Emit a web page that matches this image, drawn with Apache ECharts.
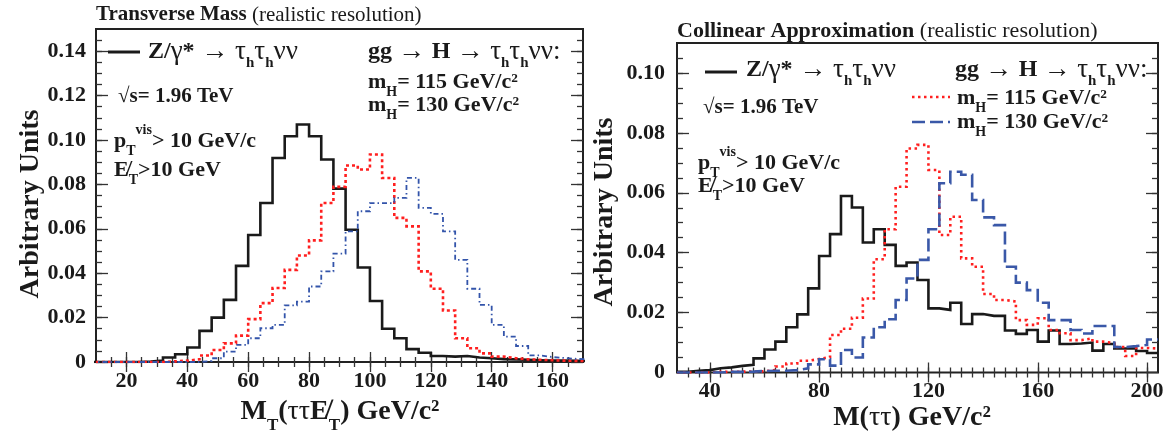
<!DOCTYPE html>
<html>
<head>
<meta charset="utf-8">
<script src="https://cdn.jsdelivr.net/npm/echarts@6/dist/echarts.min.js"></script>
<style>
  html, body { margin: 0; padding: 0; background: #ffffff; }
  #chart { width: 1173px; height: 437px; }
</style>
</head>
<body>
<div id="chart"></div>
<script>
// ---------------- data ----------------
// Histogram binning (GeV/c^2): lower edge of first bin and common bin width
const binWidth = 4;
const mtBinLow = 8;     // transverse-mass histograms
const colBinLow = 28;   // collinear-mass histograms

// Transverse mass M_T(tau tau MET), bins 8..172
const mtZ = [0, 0, 0, 0, 0.0002, 0.0006, 0.0020, 0.0035, 0.0065, 0.0140,
  0.0200, 0.0280, 0.0433, 0.0572, 0.0716, 0.0919, 0.1017, 0.1070, 0.1017, 0.0912,
  0.0781, 0.0596, 0.0426, 0.0275, 0.0150, 0.0107, 0.0058, 0.0042, 0.0027, 0.0024,
  0.0027, 0.0020, 0.0017, 0.0013, 0.0012, 0.0010, 0.0008, 0.0007, 0.0006, 0.0005,
  0.0004];
const mtH115 = [0, 0, 0, 0, 0, 0, 0.0003, 0.0006, 0.0012, 0.0029,
  0.0054, 0.0084, 0.0119, 0.0193, 0.0265, 0.0333, 0.0415, 0.0480, 0.0548, 0.0716,
  0.0789, 0.0885, 0.0867, 0.0935, 0.0829, 0.0649, 0.0611, 0.0408, 0.0330, 0.0232,
  0.0107, 0.0062, 0.0039, 0.0024, 0.0017, 0.0012, 0.0010, 0.0008, 0.0006, 0.0005,
  0.0004];
const mtH130 = [0, 0, 0, 0, 0, 0, 0, 0, 0, 0.0005,
  0.0017, 0.0047, 0.0077, 0.0107, 0.0152, 0.0167, 0.0255, 0.0272, 0.0340, 0.0408,
  0.0488, 0.0588, 0.0679, 0.0716, 0.0716, 0.0739, 0.0829, 0.0694, 0.0667, 0.0588,
  0.0460, 0.0330, 0.0257, 0.0167, 0.0114, 0.0072, 0.0030, 0.0022, 0.0018, 0.0014,
  0.0012];

// Collinear approximation M(tau tau), bins 28..204
const colZ = [0.0002, 0.0006, 0.0008, 0.0014, 0.0017, 0.0022, 0.0026, 0.0047, 0.0077, 0.0103,
  0.0151, 0.0194, 0.0281, 0.0389, 0.0462, 0.0589, 0.0551, 0.0434, 0.0478, 0.0426,
  0.0356, 0.0367, 0.0309, 0.0214, 0.0209, 0.0233, 0.0162, 0.0195, 0.0189, 0.0189,
  0.0140, 0.0129, 0.0142, 0.0103, 0.0140, 0.0095, 0.0097, 0.0100, 0.0073, 0.0095,
  0.0080, 0.0080, 0.0072, 0.0065];
const colH115 = [0, 0, 0, 0.0002, 0.0002, 0.0003, 0.0003, 0.0004, 0.0008, 0.0020,
  0.0030, 0.0039, 0.0045, 0.0051, 0.0125, 0.0146, 0.0183, 0.0247, 0.0378, 0.0478,
  0.0620, 0.0748, 0.0760, 0.0676, 0.0459, 0.0520, 0.0381, 0.0353, 0.0262, 0.0242,
  0.0237, 0.0175, 0.0159, 0.0181, 0.0142, 0.0131, 0.0108, 0.0114, 0.0103, 0.0098,
  0.0085, 0.0055, 0.0082, 0.0080];
const colH130 = [0, 0, 0, 0, 0.0002, 0.0002, 0.0003, 0.0005, 0.0006, 0.0006,
  0.0008, 0.0014, 0.0027, 0.0044, 0.0023, 0.0075, 0.0050, 0.0117, 0.0151, 0.0178,
  0.0242, 0.0314, 0.0376, 0.0478, 0.0632, 0.0670, 0.0660, 0.0576, 0.0518, 0.0492,
  0.0353, 0.0300, 0.0275, 0.0233, 0.0175, 0.0175, 0.0142, 0.0130, 0.0155, 0.0155,
  0.0085, 0.0088, 0.0092, 0.0110];

// Axis ranges and tick labels
const mtRange = [10, 170];
const mtYMax = 0.15;
const mtXTicks = [20, 40, 60, 80, 100, 120, 140, 160];
const mtYTicks = [0, 0.02, 0.04, 0.06, 0.08, 0.10, 0.12, 0.14];
const mtXMinorStep = 5;

const colRange = [28, 204];
const colYMax = 0.11;
const colXTicks = [40, 80, 120, 160, 200];
const colYTicks = [0, 0.02, 0.04, 0.06, 0.08, 0.10];
const colXMinorStep = 4;
const yMinorStep = 0.005;

// ---------------- styling ----------------
const FONT = '"Liberation Serif", "DejaVu Serif", serif';
const INK = '#1a1a1a';
const RED = '#ff1f1f';
const BLUE_MT = '#3354aa';
const BLUE_COL = '#3a58a8';
const TICK_FONT = 22;

function steps(lo, hi, step) {
  const out = [];
  for (let v = lo; v <= hi + 1e-9; v += step) out.push(+v.toFixed(6));
  return out;
}

function histData(low, values) {
  const pts = values.map((v, i) => [low + i * binWidth, v]);
  pts.push([low + values.length * binWidth, values[values.length - 1]]);
  return pts;
}

function yLabel(v) { return v === 0 ? '0' : v.toFixed(2); }

// four tick axes (main + minor, both sides) for one grid
function xAxes(grid, range, majors, minorStep) {
  const minors = steps(range[0], range[1], minorStep).filter(v => v > range[0] && v < range[1]);
  const base = {
    type: 'value', gridIndex: grid, min: range[0], max: range[1],
    axisLine: { show: false }, splitLine: { show: false }
  };
  const tickStyle = { color: '#333', width: 1.3 };
  return [
    Object.assign({}, base, {
      position: 'bottom',
      axisTick: { show: true, inside: true, length: 10, customValues: majors, lineStyle: tickStyle },
      axisLabel: {
        show: true, customValues: majors, margin: 8, color: INK,
        fontFamily: FONT, fontWeight: 'bold', fontSize: TICK_FONT
      }
    }),
    Object.assign({}, base, {
      position: 'bottom',
      axisTick: { show: true, inside: true, length: 5, customValues: minors, lineStyle: tickStyle },
      axisLabel: { show: false }
    }),
    Object.assign({}, base, {
      position: 'top',
      axisTick: { show: true, inside: true, length: 10, customValues: majors, lineStyle: tickStyle },
      axisLabel: { show: false }
    }),
    Object.assign({}, base, {
      position: 'top',
      axisTick: { show: true, inside: true, length: 5, customValues: minors, lineStyle: tickStyle },
      axisLabel: { show: false }
    })
  ];
}

function yAxes(grid, ymax, majors, labelMargin) {
  const minors = steps(0, ymax, yMinorStep).filter(v => v > 0 && v < ymax);
  const base = {
    type: 'value', gridIndex: grid, min: 0, max: ymax,
    axisLine: { show: false }, splitLine: { show: false }
  };
  const tickStyle = { color: '#333', width: 1.3 };
  return [
    Object.assign({}, base, {
      position: 'left',
      axisTick: { show: true, inside: true, length: 12, customValues: majors, lineStyle: tickStyle },
      axisLabel: {
        show: true, customValues: majors, margin: labelMargin, color: INK,
        fontFamily: FONT, fontWeight: 'bold', fontSize: TICK_FONT, formatter: yLabel
      }
    }),
    Object.assign({}, base, {
      position: 'left',
      axisTick: { show: true, inside: true, length: 6, customValues: minors, lineStyle: tickStyle },
      axisLabel: { show: false }
    }),
    Object.assign({}, base, {
      position: 'right',
      axisTick: { show: true, inside: true, length: 12, customValues: majors, lineStyle: tickStyle },
      axisLabel: { show: false }
    }),
    Object.assign({}, base, {
      position: 'right',
      axisTick: { show: true, inside: true, length: 6, customValues: minors, lineStyle: tickStyle },
      axisLabel: { show: false }
    })
  ];
}

function histSeries(name, low, values, axis, color, width, dash) {
  return {
    name: name, type: 'line', step: 'end', symbol: 'none', clip: true,
    xAxisIndex: axis, yAxisIndex: axis, silent: true, animation: false,
    lineStyle: { color: color, width: width, type: dash || 'solid', cap: 'butt', join: 'miter' },
    data: histData(low, values)
  };
}

// rich-text styles: bold, normal, greek (slightly larger), subscript, superscript
function rich(size) {
  const lh = Math.round(size * 1.6);
  const small = Math.round(size * 0.62);
  return {
    b: { fontFamily: FONT, fontWeight: 'bold', fontSize: size, lineHeight: lh, verticalAlign: 'middle', fill: INK },
    n: { fontFamily: FONT, fontWeight: 'normal', fontSize: size, lineHeight: lh, verticalAlign: 'middle', fill: INK },
    g: { fontFamily: FONT, fontWeight: 'normal', fontSize: Math.round(size * 1.12), lineHeight: lh, verticalAlign: 'middle', fill: INK },
    sub: { fontFamily: FONT, fontWeight: 'bold', fontSize: small, lineHeight: small + 2, verticalAlign: 'bottom', fill: INK },
    sup: { fontFamily: FONT, fontWeight: 'bold', fontSize: small, lineHeight: small + 2, verticalAlign: 'top', fill: INK }
  };
}

function label(x, y, text, size, align, rotation) {
  const el = {
    type: 'text', x: x, y: y, silent: true,
    style: {
      text: text, rich: rich(size), align: align || 'left', verticalAlign: 'middle',
      fontFamily: FONT, fontSize: size, fill: INK
    }
  };
  if (rotation) el.rotation = rotation;
  return el;
}

function sample(x1, x2, y, color, width, dash) {
  return {
    type: 'line', silent: true,
    shape: { x1: x1, y1: y, x2: x2, y2: y },
    style: { stroke: color, lineWidth: width, lineDash: dash || null }
  };
}

const zText = '{b|Z/}{g|γ}{b|*}{g| → τ}{sub|h}{g|τ}{sub|h}{g|νν}';
const hText = '{b|gg }{g|→ }{b|H }{g|→ τ}{sub|h}{g|τ}{sub|h}{g|νν:}';
const m115 = '{b|m}{sub|H}{b|= 115 GeV/c²}';
const m130 = '{b|m}{sub|H}{b|= 130 GeV/c²}';
const sqrtS = '{b|√s= 1.96 TeV}';
const ptCut = '{b|p}{sub|T}{sup|vis}{b|> 10 GeV/c}';
const metCut = '{b|E\u0338}{sub|T}{b|>10 GeV}';
const yTitle = '{b|Arbitrary Units}';

const chart = echarts.init(document.getElementById('chart'), null, { renderer: 'canvas' });

chart.setOption({
  animation: false,
  backgroundColor: '#ffffff',
  grid: [
    { left: 96, top: 29, width: 487, height: 333, show: true, borderColor: '#222', borderWidth: 2, backgroundColor: 'transparent' },
    { left: 677, top: 43, width: 481, height: 329.5, show: true, borderColor: '#222', borderWidth: 2, backgroundColor: 'transparent' }
  ],
  xAxis: [].concat(
    xAxes(0, mtRange, mtXTicks, mtXMinorStep),
    xAxes(1, colRange, colXTicks, colXMinorStep)
  ),
  yAxis: [].concat(
    yAxes(0, mtYMax, mtYTicks, 10),
    yAxes(1, colYMax, colYTicks, 12)
  ),
  series: [
    histSeries('Z → ττνν (M_T)', mtBinLow, mtZ, 0, INK, 2.6),
    histSeries('mH = 115 (M_T)', mtBinLow, mtH115, 0, RED, 2.6, [3, 3]),
    histSeries('mH = 130 (M_T)', mtBinLow, mtH130, 0, BLUE_MT, 1.8, [5, 3, 1.5, 3]),
    histSeries('Z → ττνν (M)', colBinLow, colZ, 4, INK, 2.6),
    histSeries('mH = 115 (M)', colBinLow, colH115, 4, RED, 2.6, [2.5, 3.5]),
    histSeries('mH = 130 (M)', colBinLow, colH130, 4, BLUE_COL, 2.6, [13, 5])
  ],
  graphic: [
    // transverse-mass panel
    label(96, 15, '{b|Transverse Mass} {n|(realistic resolution)}', 21),
    sample(108, 140, 52, INK, 3),
    label(148, 52, zText, 24),
    label(368, 52, hText, 24),
    label(368, 82, m115, 22),
    label(368, 105, m130, 22),
    label(118, 97, sqrtS, 21),
    label(114, 141, ptCut, 22),
    label(114, 170, metCut, 22),
    label(31, 204, yTitle, 28, 'center', Math.PI / 2),
    label(340, 412, '{b|M}{sub|T}{b|(}{n|ττ}{b|E\u0338}{sub|T}{b|) GeV/c²}', 28, 'center'),

    // collinear-approximation panel
    label(677, 31, '{b|Collinear Approximation} {n|(realistic resolution)}', 22),
    sample(705, 737, 72, INK, 3),
    label(746, 70, zText, 24),
    label(955, 70, hText, 24),
    sample(912, 950, 97, RED, 2.6, [2.5, 3.5]),
    label(957, 98, m115, 22),
    sample(912, 950, 122, BLUE_COL, 2.6, [13, 5]),
    label(957, 122, m130, 22),
    label(703, 108, sqrtS, 21),
    label(698, 163, ptCut, 22),
    label(698, 186, metCut, 22),
    label(605, 212, yTitle, 28, 'center', Math.PI / 2),
    label(912, 418, '{b|M(}{n|ττ}{b|) GeV/c²}', 28, 'center')
  ]
});
</script>
</body>
</html>
